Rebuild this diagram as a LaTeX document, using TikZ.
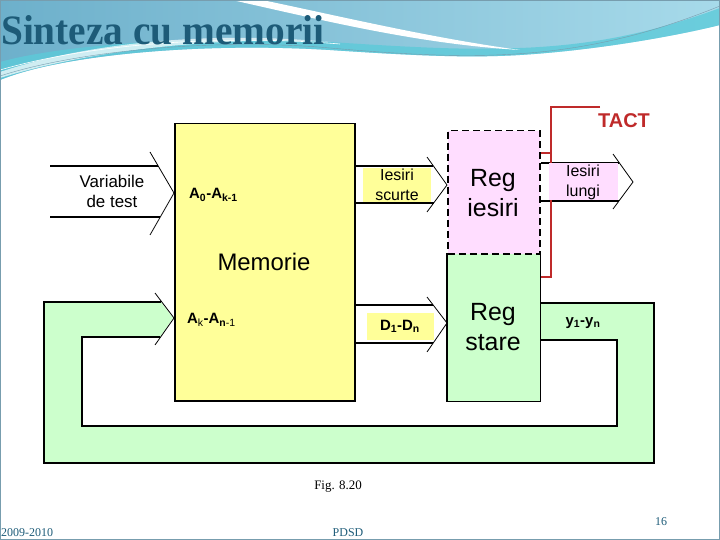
\documentclass[tikz,border=0pt]{standalone}
\usepackage{fontspec}
\setmainfont{Liberation Sans}
\newfontfamily\slidefont{Liberation Serif}
\usetikzlibrary{positioning}
\definecolor{memyellow}{HTML}{FFFF99}
\definecolor{regpink}{HTML}{FFDDFF}
\definecolor{busgreen}{HTML}{CCFFCC}
\definecolor{tactred}{HTML}{BF2A2A}
\definecolor{slideteal}{HTML}{1D5B78}
\definecolor{wavedark}{HTML}{6DB0CB}
\definecolor{wavelight}{HTML}{A7DAEA}
\definecolor{wavecyan}{HTML}{5CCAD9}

\tikzset{
  blk/.style={draw=black, line width=1.5bp, anchor=north west, inner sep=0pt},
  busline/.style={line width=1.3bp},
  chev/.style={line width=0.8bp},
  lbl/.style={font=\fontsize{16}{20}\selectfont, align=center, inner sep=0pt},
  sig/.style={font=\bfseries\fontsize{15}{18}\selectfont, inner sep=0pt},
  foot/.style={font=\slidefont\fontsize{12}{14}\selectfont, text=slideteal, inner sep=0pt},
}

\begin{document}
\begin{tikzpicture}[x=1bp,y=-1bp]
\useasboundingbox (0,0) rectangle (720,540);
% slide banner
\shade[left color=wavedark, right color=wavelight] (0,0) -- (720,0) -- (720,25)
  .. controls (680,35) and (600,50) .. (520,55)
  .. controls (470,58) and (420,56) .. (330,50)
  .. controls (200,42) and (60,55) .. (0,80) -- cycle;
\fill[wavecyan, opacity=.8] (720,8) .. controls (660,30) and (600,45) .. (520,48)
  .. controls (470,50) and (420,48) .. (330,42)
  .. controls (200,34) and (60,45) .. (0,62) -- (0,80)
  .. controls (60,55) and (200,42) .. (330,50)
  .. controls (420,56) and (470,58) .. (520,55)
  .. controls (600,50) and (680,35) .. (720,25) -- cycle;
\fill[white] (232,0) .. controls (330,22) and (420,44) .. (520,50)
  .. controls (430,38) and (330,14) .. (262,0) -- cycle;
\fill[white, opacity=.7] (0,72) .. controls (80,45) and (200,30) .. (330,42)
  .. controls (220,36) and (90,50) .. (0,78) -- cycle;
\draw[slideteal!60, line width=.4bp] (0,76) .. controls (80,50) and (220,38) .. (330,48)
  .. controls (420,56) and (480,58) .. (540,52) .. controls (620,44) and (680,22) .. (720,6);
\draw[white, line width=.6bp] (0,70) .. controls (90,44) and (220,34) .. (340,44);
\node[anchor=base west, inner sep=0pt, text=slideteal, xscale=.94,
  font=\slidefont\bfseries\fontsize{42}{46}\selectfont] (title) at (1,45) {Sinteza cu memorii};
% feedback y1-yn
\fill[busgreen] (44,302) -- (161,302) -- (173,318) -- (160,337) -- (82,337) -- (82,426)
  -- (617,426) -- (617,340) -- (539,340) -- (539,303) -- (654,303) -- (654,463) -- (44,463) -- cycle;
% blocks
\node[blk, fill=memyellow, minimum width=180bp, minimum height=277bp] (mem) at (174,123) {};
\node[blk, fill=busgreen, draw=none, minimum width=92bp, minimum height=147bp] (rs) at (447,253) {};
\draw[line width=1.5bp] (rs.north west) -- (rs.south west) -- (rs.south east) -- (rs.north east);
\node[blk, fill=regpink, dash pattern=on 7bp off 4bp, minimum width=92bp, minimum height=123bp] (ri) at (447,130) {};
\draw[busline] (rs.east |- 0,303) -- (654,303) -- (654,463) -- (44,463) -- (44,302) -- (161,302);
\draw[busline] (rs.east |- 0,340) -- (617,340) -- (617,426) -- (82,426) -- (82,337) -- (160,337);
\draw[chev] (155,293) -- (mem.west |- 0,318) -- (155,345);
% buses
\draw[busline] (50,166) -- (158,166) (50,217) -- (160,217);
\draw[chev] (150,152) -- (mem.west |- 0,193) -- (150,235);
\draw[busline] (mem.east |- 0,166) -- (433,166) (mem.east |- 0,203) -- (434,203);
\draw[chev] (427,157) -- (ri.west |- 0,185) -- (427,212);
\draw[busline] (mem.east |- 0,305) -- (433,305) (mem.east |- 0,343) -- (433,343);
\draw[chev] (427,297) -- (rs.west |- 0,323) -- (427,352);
\coordinate (out) at (633,182);
\draw[busline] (ri.east |- 0,163) -- (619,163) (ri.east |- 0,201) -- (619,201);
\draw[chev] (613,154) -- (out) -- (613,209);
% TACT
\node[font=\bfseries\fontsize{20}{24}\selectfont, text=tactred, anchor=west, inner sep=0pt] (tact) at (598,121) {TACT};
\coordinate (tk) at (600,107);
\draw[tactred, line width=1.5bp] (tk) -- (551,107) -- (551,277) -- (rs.east |- 0,277);
\draw[tactred, line width=1.5bp] (551,153) -- (ri.east |- 0,153);
% labels
\node[font=\fontsize{24}{28}\selectfont] (memt) at (264,262) {Memorie};
\node[font=\fontsize{25}{30}\selectfont, align=center] (rit) at (493,193) {Reg\\iesiri};
\node[font=\fontsize{25}{30}\selectfont, align=center] (rst) at (493,327) {Reg\\stare};
\node[lbl, font=\fontsize{17}{20}\selectfont] (var) at (112,191) {Variabile\\de test};
\node[sig, anchor=west] (a0) at (189,195) {A\textsubscript{0}-A\textsubscript{k-1}};
\node[sig, anchor=west] (ak) at (187,320) {A\textsubscript{\mdseries k}-A\textsubscript{n\mdseries -1}};
\node[lbl, fill=memyellow, minimum width=68bp, minimum height=34bp] (isc) at (397,185) {Iesiri\\scurte};
\node[lbl, fill=regpink, minimum width=69bp, minimum height=37bp] (ilg) at (583,182) {Iesiri\\lungi};
\node[sig, fill=memyellow, minimum width=67bp, minimum height=27bp] (dn) at (400,326) {D\textsubscript{1}-D\textsubscript{n}};
\node[sig] (yn) at (583,323) {y\textsubscript{1}-y\textsubscript{n}};
% footer
\node[font=\slidefont\fontsize{13}{15}\selectfont] (fig) at (338,487) {Fig. 8.20};
\node[foot, anchor=base west] (yr) at (1,536) {2009-2010};
\node[foot, anchor=base] (crs) at (348,536) {PDSD};
\node[foot, anchor=base] (pg) at (661,525) {16};
\draw[slideteal!60, line width=1bp] (0.5,0.5) rectangle (719.5,539.5);
\end{tikzpicture}
\end{document}
